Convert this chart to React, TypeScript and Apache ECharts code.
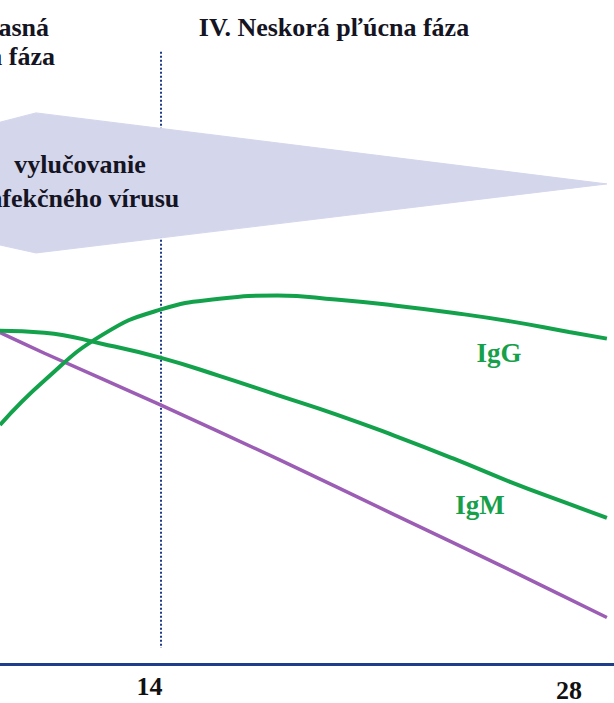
import React, { useEffect, useRef } from "react";
import * as echarts from "echarts";

// x: days after onset, y: relative level (0–100)
const days = [8.475, 10, 12, 14, 16, 18, 20, 22, 24, 26, 28, 29.3];
const igG = [36.0, 42.7, 49.6, 53.4, 55.0, 55.5, 54.9, 54.0, 52.9, 51.6, 50.0, 49.0];
const igM = [50.2, 49.9, 48.2, 46.1, 43.4, 40.5, 37.6, 34.4, 31.0, 27.4, 24.1, 22.0];
const virusDays = [8.475, 10, 14, 18, 22, 26, 29.3];
const virusLevel = [49.9, 46.8, 39.0, 30.9, 22.5, 14.1, 7.0];
// shedding arrow outline
const arrowDays = [8.475, 9.71, 29.3, 9.71, 8.475];
const arrowLevels = [81.6, 83.0, 72.3, 61.9, 63.1];
const phaseDay = 14;
const phaseLineRange = [92.2, 2.4];
const tickDays = [14, 28];
const xMin = 8.475;
const xMax = 29.544;

const SERIF = '"Liberation Serif", "Times New Roman", serif';

export default function App() {
  const ref = useRef<HTMLDivElement>(null);
  useEffect(() => {
    if (!ref.current) return;
    const chart = echarts.init(ref.current, undefined, { renderer: "svg" });
    chart.setOption({
      animation: false,
      backgroundColor: "#ffffff",
      grid: { left: 0, right: 0, top: 0, bottom: 34 },
      xAxis: {
        type: "value",
        min: xMin,
        max: xMax,
        splitLine: { show: false },
        axisTick: { show: false },
        axisLine: { show: true, lineStyle: { color: "#1e3d8a", width: 3 } },
        axisLabel: {
          customValues: tickDays,
          margin: 9,
          fontFamily: SERIF,
          fontWeight: "bold",
          fontSize: 26,
          color: "#111111",
          formatter: (v: number) => (v === 14 ? "{a|" + v + "}" : "{b|" + v + "}"),
          rich: {
            a: { fontFamily: SERIF, fontWeight: "bold", fontSize: 26, color: "#111111", padding: [0, 23, 0, 0] },
            b: { fontFamily: SERIF, fontWeight: "bold", fontSize: 26, color: "#111111", padding: [4, 0, 0, 0] },
          },
        },
      },
      yAxis: { type: "value", min: 0, max: 100, show: false },
      series: [
        {
          type: "line",
          data: phaseLineRange.map((v) => [phaseDay, v]),
          symbol: "none",
          lineStyle: { color: "#1f3a8a", width: 2, type: [2, 2] },
          z: 1,
        },
        {
          type: "custom",
          data: [[14, 50]],
          z: 2,
          renderItem: (_p: any, api: any) => ({
            type: "polygon",
            shape: { points: arrowDays.map((d, i) => api.coord([d, arrowLevels[i]])) },
            style: { fill: "#d4d6ec", stroke: "#d4d6ec", lineWidth: 1, lineJoin: "round" },
          }),
        },
        {
          type: "line",
          data: virusDays.map((d, i) => [d, virusLevel[i]]),
          symbol: "none",
          smooth: 0.2,
          lineStyle: { color: "#9c5db4", width: 3.5 },
          z: 3,
        },
        {
          type: "line",
          data: days.map((d, i) => [d, igM[i]]),
          symbol: "none",
          smooth: 0.5,
          lineStyle: { color: "#13a24b", width: 4 },
          z: 4,
        },
        {
          type: "line",
          data: days.map((d, i) => [d, igG[i]]),
          symbol: "none",
          smooth: 0.5,
          lineStyle: { color: "#13a24b", width: 4 },
          z: 5,
        },
      ],
      graphic: [
        {
          type: "text", x: 334, y: 27, z: 10,
          style: { text: "IV. Neskorá pľúcna fáza", font: `bold 26px ${SERIF}`, fill: "#141423", align: "center", verticalAlign: "middle" },
        },
        {
          type: "text", x: 49, y: 27, z: 10,
          style: { text: "III. Včasná", font: `bold 26px ${SERIF}`, fill: "#141423", align: "right", verticalAlign: "middle" },
        },
        {
          type: "text", x: 55, y: 56, z: 10,
          style: { text: "pľúcna fáza", font: `bold 26px ${SERIF}`, fill: "#141423", align: "right", verticalAlign: "middle" },
        },
        {
          type: "text", x: 80, y: 181, z: 10,
          style: { text: "vylučovanie\ninfekčného vírusu", font: `bold 26px ${SERIF}`, lineHeight: 34, fill: "#141423", align: "center", verticalAlign: "middle" },
        },
        {
          type: "text", x: 499, y: 353, z: 10,
          style: { text: "IgG", font: `bold 27px ${SERIF}`, fill: "#17a04a", align: "center", verticalAlign: "middle" },
        },
        {
          type: "text", x: 480, y: 505, z: 10,
          style: { text: "IgM", font: `bold 27px ${SERIF}`, fill: "#17a04a", align: "center", verticalAlign: "middle" },
        },
      ],
    });
    return () => chart.dispose();
  }, []);
  return <div ref={ref} style={{ position: "fixed", left: 0, top: 0, width: 614, height: 703 }} />;
}
